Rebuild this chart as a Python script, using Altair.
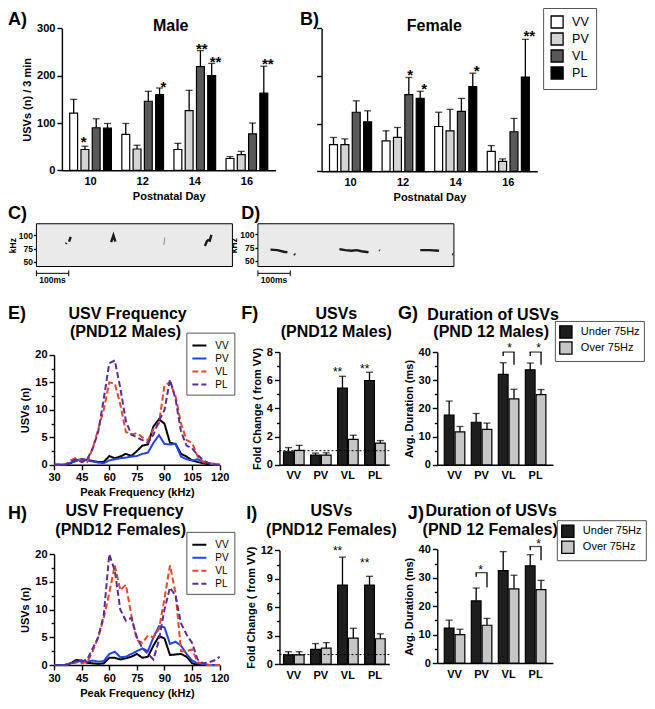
import altair as alt
import pandas as pd

FONT = "Liberation Sans"

# ---------------- categories ----------------
days = ["10", "12", "14", "16"]
groups = ["VV", "PV", "VL", "PL"]
conds = ["Under 75Hz", "Over 75Hz"]
freqs = [30, 33, 36, 39, 42, 45, 48, 51, 54, 57, 60, 63, 66, 69, 72, 75,
         78, 81, 84, 87, 90, 93, 96, 99, 102, 105, 108, 111, 114, 117, 120]

# ---------------- A) males, B) females: mean and mean+SEM (rows VV, PV, VL, PL; cols days) ----------------
male_mean = [[121, 76, 44, 25], [44, 45, 126, 33], [90, 146, 219, 77], [89, 160, 200, 163]]
male_top = [[150, 99, 57, 29], [51, 53, 169, 40], [109, 167, 253, 100], [99, 174, 226, 220]]
female_mean = [[56, 64, 94, 42], [56, 71, 85, 21], [124, 161, 126, 83], [104, 153, 178, 198]]
female_top = [[71, 85, 124, 54], [68, 92, 130, 26], [148, 197, 153, 111], [127, 168, 206, 277]]
male_star_day = ["10", "12", "14", "14", "16"]
male_star_group = ["PV", "PL", "VL", "PL", "PL"]
male_star_text = ["*", "*", "**", "**", "**"]
male_star_y = [68, 185, 265, 238, 234]
female_star_day = ["12", "12", "14", "16"]
female_star_group = ["VL", "PL", "PL", "PL"]
female_star_text = ["*", "*", "*", "**"]
female_star_y = [210, 182, 218, 292]

# ---------------- C), D) spectrogram calls: time (ms) / frequency (kHz) ----------------
c_call_t = [[91, 93], [101, 106], [231, 238, 244], [521, 527, 531, 536, 541]]
c_call_f = [[84, 86], [88, 97], [87, 100, 88], [80, 89, 91, 90, 101]]
c_faint_t = [[394, 397]]
c_faint_f = [[82, 96]]
d_call_t = [[39, 60, 80, 91], [112, 115], [252, 270, 290, 305, 320, 342], [375, 377], [502, 530, 560], [601, 604]]
d_call_f = [[71, 70, 67, 66], [63, 61], [72, 70, 69, 70, 68, 66], [70, 69], [70, 70, 69], [63, 62]]

# ---------------- E), H) USV counts by peak frequency ----------------
e_vv = [0, 0, 0, 0.3, 0.8, 1.0, 0.9, 0.7, 0.5, 0.5, 1.6, 1.2, 1.5, 2.0, 1.6, 2.5, 3.5, 3.7, 7.0, 8.3, 7.5, 4.0, 3.8, 2.0, 1.5, 0.8, 0.5, 0.3, 0.1, 0, 0]
e_pv = [0, 0, 0, 0.4, 0.7, 1.0, 0.8, 0.6, 0.4, 0.3, 0.8, 1.0, 1.2, 1.3, 1.5, 1.6, 2.0, 2.2, 4.0, 5.4, 3.8, 3.7, 3.8, 1.5, 1.0, 0.8, 1.0, 0.6, 0.3, 0, 0]
e_vl = [0, 0, 0, 0.8, 1.3, 0.6, 0.5, 3.0, 6.5, 10.0, 15.0, 14.8, 11.0, 6.0, 5.5, 5.8, 5.0, 4.5, 6.5, 7.5, 14.5, 15.0, 12.5, 7.5, 4.5, 4.0, 1.5, 0.5, 0.3, 0.2, 0]
e_pl = [0, 0, 0, 0.5, 1.0, 0.5, 1.0, 3.0, 6.0, 12.0, 18.5, 19.0, 14.0, 8.0, 5.5, 5.0, 4.5, 4.0, 5.5, 8.0, 10.0, 15.5, 12.0, 6.0, 3.5, 3.0, 1.8, 0.8, 0.3, 0.1, 0]
h_vv = [0, 0, 0, 0.3, 0.9, 0.8, 0.4, 0.3, 0.2, 0.3, 1.3, 1.3, 1.0, 1.2, 1.5, 2.0, 1.3, 1.5, 3.5, 5.2, 4.8, 1.8, 1.9, 2.0, 1.5, 0.3, 0.1, 0, 0, 0, 0]
h_pv = [0, 0, 0, 0.3, 0.5, 0.8, 0.6, 0.8, 0.6, 0.7, 2.0, 2.4, 1.4, 1.5, 2.0, 2.5, 3.0, 2.5, 5.0, 7.0, 6.8, 3.8, 4.2, 3.5, 2.0, 0.8, 0.3, 0.2, 0, 0, 0]
h_vl = [0, 0, 0, 0.3, 0.5, 0.3, 0.5, 2.5, 5.0, 8.5, 13.0, 18.0, 13.5, 14.5, 9.0, 4.5, 4.0, 5.3, 5.0, 6.5, 12.0, 18.0, 13.0, 2.5, 2.5, 2.8, 0.5, 0.2, 0, 0, 0]
h_pl = [0, 0, 0, 0.2, 0.7, 0.6, 1.0, 3.0, 5.0, 9.0, 20.0, 17.0, 10.0, 8.0, 8.5, 5.0, 3.0, 2.0, 1.0, 4.5, 10.0, 14.0, 12.5, 7.5, 5.5, 4.0, 1.0, 0.3, 0.5, 0.8, 1.5]

# ---------------- F), I) fold change; G), J) duration (under / over 75Hz) ----------------
f_under = [0.92, 0.69, 5.45, 5.98]; f_under_top = [1.22, 0.83, 6.28, 6.57]
f_over = [1.03, 0.69, 1.80, 1.54]; f_over_top = [1.38, 0.85, 2.10, 1.72]
g_under = [17.6, 15.1, 32.1, 33.7]; g_under_top = [22.6, 18.2, 36.2, 36.1]
g_over = [11.7, 12.6, 23.4, 24.9]; g_over_top = [13.6, 14.8, 26.8, 26.7]
i_under = [0.96, 1.54, 8.33, 8.33]; i_under_top = [1.30, 2.16, 11.28, 9.26]
i_over = [0.96, 1.68, 2.74, 2.67]; i_over_top = [1.30, 2.26, 3.77, 3.19]
j_under = [12.3, 21.9, 32.5, 34.2]; j_under_top = [15.1, 26.4, 39.2, 38.1]
j_over = [10.0, 13.3, 26.1, 25.8]; j_over_top = [11.9, 15.7, 30.9, 29.1]
f_star_group = ["VL", "PL"]; f_star_y = [6.83, 7.03]
i_star_group = ["VL", "PL"]; i_star_y = [12.2, 10.97]
g_br_group = ["VL", "PL"]; g_br_top = [40, 40]; g_br_under = [38.6, 38.6]; g_br_over = [35.5, 35.5]; g_br_star = [42.4, 42.4]
j_br_group = ["PV", "PL"]; j_br_top = [31.8, 41.0]; j_br_under = [30.4, 39.7]; j_br_over = [26.7, 36.2]; j_br_star = [33.8, 43.0]

# ---------------- styles ----------------
bar_fills = ["#ffffff", "#d4d4d4", "#595959", "#000000"]
cond_fills = ["#1e1e1e", "#c6c6c6"]
line_colors = ["#000000", "#1f45e8", "#ec4627", "#5b2d96"]
line_dash = [[1, 0], [1, 0], [6, 3], [6, 3]]

# ---------------- layout (reference pixels mapped to the canvas) ----------------
W, H = 639, 692
SX = W / 652.0
SY = H / 712.0


def fx(x):
    return (x - 2) * SX


def fy(y):
    return (y - 2) * SY


A_BOX = (57, 275, 169, 23)
B_BOX = (322, 542, 170, 23)
C_BOX = (31, 231, 268, 224)
D_BOX = (257, 457, 268, 224)
E_BOX = (49, 218, 472, 359)
F_BOX = (279, 391, 472, 356)
G_BOX = (440, 558, 472, 356)
H_BOX = (49, 218, 678, 564)
I_BOX = (279, 391, 677, 560)
J_BOX = (440, 558, 676, 559)

one = pd.DataFrame({"k": [0]})


def yaxis(x0, **kw):
    return alt.Axis(orient="left", offset=-fx(x0), **kw)


def xaxis(yb, **kw):
    return alt.Axis(orient="bottom", offset=fy(yb) - H, labelAngle=0, **kw)


def label(text, x, y, size, weight="bold", align="center"):
    return alt.Chart(one).mark_text(text=text, font=FONT, fontSize=size, fontWeight=weight,
                                    align=align, baseline="alphabetic", color="black").encode(
        x=alt.value(fx(x)), y=alt.value(fy(y)))


def minor_ticks(box, ydom, vals):
    x0, x1, yb, yt = box
    ys = alt.Scale(domain=ydom, range=[fy(yb), fy(yt)], nice=False)
    return [alt.Chart(one).mark_point(opacity=0).encode(
        y=alt.Y(datum=ydom[0], scale=ys,
                axis=yaxis(x0, values=vals, labels=False, domain=False, tickSize=3, title=None)))]


def bar_panel(means, tops, sday, sgroup, stext, sy, box, ytitle, ylabels, legend):
    x0, x1, yb, yt = box
    df = pd.DataFrame([{"day": d, "group": g, "mean": m, "top": t}
                       for g, ms, ts in zip(groups, means, tops) for d, m, t in zip(days, ms, ts)])
    sdf = pd.DataFrame({"day": sday, "group": sgroup, "txt": stext, "y": sy})
    xs = alt.Scale(domain=days, range=[fx(x0), fx(x1)], paddingInner=0.2, paddingOuter=0.15)
    xo = alt.Scale(domain=groups, paddingInner=0.3, paddingOuter=0)
    ys = alt.Scale(domain=[0, 300], range=[fy(yb), fy(yt)], nice=False)
    X = alt.X("day:N", scale=xs, axis=None)
    XO = alt.XOffset("group:N", scale=xo)
    err = alt.Chart(df).mark_rule(color="black", strokeWidth=1.3).encode(
        x=X, xOffset=XO, y=alt.Y("mean:Q", scale=ys, axis=None), y2="top:Q")
    cap = alt.Chart(df).mark_tick(orient="horizontal", color="black", thickness=1.3, size=7).encode(
        x=X, xOffset=XO, y=alt.Y("top:Q", scale=ys, axis=None))
    bars = alt.Chart(df).mark_bar(stroke="black", strokeWidth=1.2).encode(
        x=alt.X("day:N", scale=xs, axis=xaxis(yb, title="Postnatal Day", ticks=False, labelPadding=5)),
        xOffset=XO,
        y=alt.Y("mean:Q", scale=ys, axis=yaxis(x0, values=[0, 100, 200, 300], title=ytitle, labels=ylabels)),
        color=alt.Color("group:N", scale=alt.Scale(domain=groups, range=bar_fills), legend=legend))
    star = alt.Chart(sdf).mark_text(font=FONT, fontSize=15, fontWeight="bold", baseline="alphabetic",
                                    dy=9, color="black").encode(
        x=X, xOffset=XO, y=alt.Y("y:Q", scale=ys, axis=None), text="txt:N")
    return [err, cap, bars, star]


def spec_panel(ts, fs, faint_ts, faint_fs, box, fdom, tmax):
    x0, x1, yb, yt = box
    xs = alt.Scale(domain=[0, tmax], range=[fx(x0), fx(x1)], nice=False, zero=False)
    ys = alt.Scale(domain=fdom, range=[fy(yb), fy(yt)], nice=False, zero=False)
    bg = alt.Chart(one).mark_rect(fill="#eaeaea", stroke="black", strokeWidth=1).encode(
        x=alt.X(datum=0, scale=xs, axis=None), x2=alt.X2(datum=tmax),
        y=alt.Y(datum=fdom[0], scale=ys,
                axis=yaxis(x0, values=[50, 75, 100], title="kHz", labelFontSize=8.5, titleFontSize=8.5,
                           tickSize=3, domain=False, titlePadding=1, labelPadding=1)),
        y2=alt.Y2(datum=fdom[1]))
    rows = [{"call": i, "t": t, "f": f} for i, (tt, ff) in enumerate(zip(ts, fs)) for t, f in zip(tt, ff)]
    calls = alt.Chart(pd.DataFrame(rows)).mark_line(color="#1a1a1a", strokeWidth=2.4).encode(
        x=alt.X("t:Q", scale=xs, axis=None), y=alt.Y("f:Q", scale=ys, axis=None), detail="call:N")
    layers = [bg, calls]
    if faint_ts:
        frows = [{"call": i, "t": t, "f": f} for i, (tt, ff) in enumerate(zip(faint_ts, faint_fs))
                 for t, f in zip(tt, ff)]
        layers.append(alt.Chart(pd.DataFrame(frows)).mark_line(color="#8a8a8a", strokeWidth=1).encode(
            x=alt.X("t:Q", scale=xs, axis=None), y=alt.Y("f:Q", scale=ys, axis=None), detail="call:N"))
    sb = pd.DataFrame({"t": [0, 100]})
    layers.append(alt.Chart(one).mark_rule(color="black", strokeWidth=1).encode(
        x=alt.X(datum=0, scale=xs, axis=None), x2=alt.X2(datum=100), y=alt.value(fy(275))))
    layers.append(alt.Chart(sb).mark_rule(color="black", strokeWidth=1).encode(
        x=alt.X("t:Q", scale=xs, axis=None), y=alt.value(fy(272)), y2=alt.value(fy(278))))
    layers.append(alt.Chart(one).mark_text(text="100ms", font=FONT, fontSize=8.5, fontWeight="bold",
                                           baseline="alphabetic", color="black").encode(
        x=alt.X(datum=50, scale=xs, axis=None), y=alt.value(fy(285))))
    return layers


def freq_panel(series, box, leg_xy):
    x0, x1, yb, yt = box
    df = pd.DataFrame([{"freq": f, "group": g, "n": v}
                       for g, vals in zip(groups, series) for f, v in zip(freqs, vals)])
    xs = alt.Scale(domain=[30, 120], range=[fx(x0), fx(x1)], nice=False, zero=False)
    ys = alt.Scale(domain=[0, 20], range=[fy(yb), fy(yt)], nice=False)
    leg = alt.Legend(orient="none", legendX=fx(leg_xy[0]), legendY=fy(leg_xy[1]), title=None,
                     symbolType="stroke", symbolSize=196, symbolStrokeWidth=2, labelFontSize=10,
                     padding=5, rowPadding=-1.5, labelOffset=8, strokeColor="#555")
    return [alt.Chart(df).mark_line(strokeWidth=2).encode(
        x=alt.X("freq:Q", scale=xs, axis=xaxis(yb, values=[30, 45, 60, 75, 90, 105, 120],
                                              title="Peak Frequency (kHz)", labelFlush=False)),
        y=alt.Y("n:Q", scale=ys, axis=yaxis(x0, values=[0, 5, 10, 15, 20], title="USVs (n)")),
        color=alt.Color("group:N", scale=alt.Scale(domain=groups, range=line_colors), legend=leg),
        strokeDash=alt.StrokeDash("group:N", scale=alt.Scale(domain=groups, range=line_dash), legend=leg))]


def cond_panel(under, under_top, over, over_top, box, ydom, yvals, ytitle, po, legend=None,
               star_group=None, star_y=None, br=None, dotted=False):
    x0, x1, yb, yt = box
    df = pd.DataFrame([{"group": g, "cond": c, "mean": m, "top": t}
                       for c, ms, tps in zip(conds, [under, over], [under_top, over_top])
                       for g, m, t in zip(groups, ms, tps)])
    pi, pio = 0.24, 0.1
    xs = alt.Scale(domain=groups, range=[fx(x0), fx(x1)], paddingInner=pi, paddingOuter=po)
    xo = alt.Scale(domain=conds, paddingInner=pio, paddingOuter=0)
    ys = alt.Scale(domain=ydom, range=[fy(yb), fy(yt)], nice=False)
    X = alt.X("group:N", scale=xs, axis=None)
    XO = alt.XOffset("cond:N", scale=xo)
    err = alt.Chart(df).mark_rule(color="black", strokeWidth=1.3).encode(
        x=X, xOffset=XO, y=alt.Y("mean:Q", scale=ys, axis=None), y2="top:Q")
    cap = alt.Chart(df).mark_tick(orient="horizontal", color="black", thickness=1.3, size=7).encode(
        x=X, xOffset=XO, y=alt.Y("top:Q", scale=ys, axis=None))
    bars = alt.Chart(df).mark_bar(stroke="black", strokeWidth=1.2).encode(
        x=alt.X("group:N", scale=xs, axis=xaxis(yb, title=None, ticks=False, labelPadding=5)),
        xOffset=XO,
        y=alt.Y("mean:Q", scale=ys, axis=yaxis(x0, values=yvals, title=ytitle)),
        color=alt.Color("cond:N", scale=alt.Scale(domain=conds, range=cond_fills), legend=legend))
    layers = [err, cap, bars]
    if dotted:
        layers.append(alt.Chart(one).mark_rule(color="black", strokeWidth=1, strokeDash=[2, 2]).encode(
            x=alt.value(fx(x0)), x2=alt.value(fx(x1)), y=alt.Y(datum=1, scale=ys, axis=None)))
    if star_group:
        sdf = pd.DataFrame({"group": star_group, "cond": conds[0], "y": star_y})
        layers.append(alt.Chart(sdf).mark_text(text="**", font=FONT, fontSize=12, baseline="alphabetic",
                                               dy=7, color="black").encode(
            x=X, xOffset=XO, y=alt.Y("y:Q", scale=ys, axis=None)))
    if br:
        bg, btop, bu, bo, bs = br
        legs = pd.DataFrame([{"group": g, "cond": c, "lo": lo, "hi": t}
                             for g, t, u, o in zip(bg, btop, bu, bo) for c, lo in zip(conds, [u, o])])
        step = (fx(x1) - fx(x0)) / (4 - pi + 2 * po)
        gap = step * (1 - pi) / (2 - pio)
        layers.append(alt.Chart(legs).mark_rule(color="black", strokeWidth=1.3).encode(
            x=X, xOffset=XO, y=alt.Y("lo:Q", scale=ys, axis=None), y2="hi:Q"))
        hdf = pd.DataFrame({"group": bg, "top": btop, "star": bs})
        layers.append(alt.Chart(hdf).mark_tick(orient="horizontal", color="black", thickness=1.3,
                                               size=gap + 1.3).encode(
            x=X, y=alt.Y("top:Q", scale=ys, axis=None)))
        layers.append(alt.Chart(hdf).mark_text(text="*", font=FONT, fontSize=12, baseline="alphabetic",
                                               dy=7, color="black").encode(
            x=X, y=alt.Y("star:Q", scale=ys, axis=None)))
    return layers


def cond_legend(x, y):
    return alt.Legend(orient="none", legendX=fx(x), legendY=fy(y), title=None, symbolType="square",
                      symbolSize=150, symbolStrokeColor="black", symbolStrokeWidth=1.3, labelFontSize=11,
                      padding=4, rowPadding=-8, labelOffset=8, strokeColor="#555")


ab_legend = alt.Legend(orient="none", legendX=fx(548), legendY=fy(2), title=None, symbolType="square",
                       symbolSize=144, symbolStrokeColor="black", symbolStrokeWidth=1.3, labelFontSize=12.5,
                       padding=7, rowPadding=-1, labelOffset=8, strokeColor="#555")

layers = []
layers += bar_panel(male_mean, male_top, male_star_day, male_star_group, male_star_text, male_star_y,
                    A_BOX, "USVs (n) / 3 min", True, None)
layers += bar_panel(female_mean, female_top, female_star_day, female_star_group, female_star_text,
                    female_star_y, B_BOX, None, False, ab_legend)
layers += spec_panel(c_call_t, c_call_f, c_faint_t, c_faint_f, C_BOX, [41, 122], 606)
layers += spec_panel(d_call_t, d_call_f, None, None, D_BOX, [39, 120], 606)
layers += freq_panel([e_vv, e_pv, e_vl, e_pl], E_BOX, (184, 336))
layers += minor_ticks(E_BOX, [0, 20], [2.5, 7.5, 12.5, 17.5])
layers += cond_panel(f_under, f_under_top, f_over, f_over_top, F_BOX, [0, 8], [0, 2, 4, 6, 8],
                     "Fold Change ( from VV)", 0.15, star_group=f_star_group, star_y=f_star_y, dotted=True)
layers += minor_ticks(F_BOX, [0, 8], [1, 3, 5, 7])
layers += cond_panel(g_under, g_under_top, g_over, g_over_top, G_BOX, [0, 40], [0, 10, 20, 30, 40],
                     "Avg. Duration (ms)", 0.26, legend=cond_legend(560, 324),
                     br=(g_br_group, g_br_top, g_br_under, g_br_over, g_br_star))
layers += minor_ticks(G_BOX, [0, 40], [5, 15, 25, 35])
layers += freq_panel([h_vv, h_pv, h_vl, h_pl], H_BOX, (184, 541))
layers += minor_ticks(H_BOX, [0, 20], [2.5, 7.5, 12.5, 17.5])
layers += cond_panel(i_under, i_under_top, i_over, i_over_top, I_BOX, [0, 12], [0, 3, 6, 9, 12],
                     "Fold Change ( from VV)", 0.15, star_group=i_star_group, star_y=i_star_y, dotted=True)
layers += minor_ticks(I_BOX, [0, 12], [1.5, 4.5, 7.5, 10.5])
layers += cond_panel(j_under, j_under_top, j_over, j_over_top, J_BOX, [0, 40], [0, 10, 20, 30, 40],
                     "Avg. Duration (ms)", 0.26, legend=cond_legend(562, 529),
                     br=(j_br_group, j_br_top, j_br_under, j_br_over, j_br_star))
layers += minor_ticks(J_BOX, [0, 40], [5, 15, 25, 35])

# panel letters and titles
for t, x, y in [("A)", 2, 19), ("B)", 300, 19), ("C)", 2, 219), ("D)", 240, 219), ("E)", 2, 322),
                ("F)", 240, 322), ("G)", 400, 322), ("H)", 2, 528), ("I)", 245, 528), ("J)", 410, 528)]:
    layers.append(label(t, x, y, 18, align="left"))
for t, x, y in [("Male", 168, 26), ("Female", 437, 26),
                ("USV Frequency", 124, 322), ("(PND12 Males)", 122, 341),
                ("USVs", 337, 322), ("(PND12 Males)", 337, 341),
                ("Duration of USVs", 497, 323), ("(PND 12 Males)", 495, 341),
                ("USV Frequency", 121, 525), ("(PND12 Females)", 117, 544),
                ("USVs", 332, 525), ("(PND12 Females)", 332, 544),
                ("Duration of USVs", 495, 525), ("(PND 12 Females)", 494, 544)]:
    layers.append(label(t, x, y, 16))

chart = alt.layer(*layers).resolve_scale(
    x="independent", y="independent", xOffset="independent", color="independent", strokeDash="independent"
).resolve_axis(x="independent", y="independent").resolve_legend(
    color="independent", strokeDash="independent"
).properties(
    width=W, height=H, autosize=alt.AutoSizeParams(type="none"), padding=0
).configure_view(stroke=None).configure_axis(
    labelFont=FONT, titleFont=FONT, labelFontWeight="bold", titleFontWeight="bold", labelFontSize=11,
    titleFontSize=11, labelColor="black", titleColor="black", domainColor="black", tickColor="black",
    domainWidth=1.4, tickWidth=1.4, tickSize=5, grid=False, labelPadding=2, titlePadding=4
).configure_legend(labelFont=FONT, labelColor="black")

chart.save("out.html", embed_options={"renderer": "svg", "actions": False})
